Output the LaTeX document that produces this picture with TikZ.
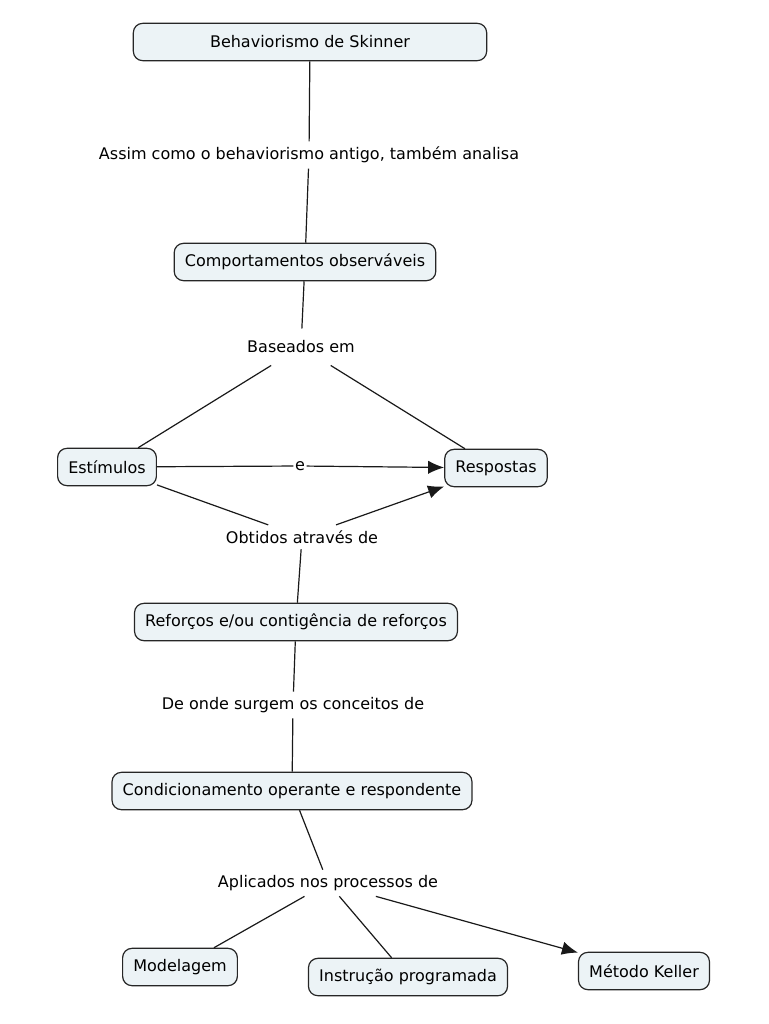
\documentclass[tikz,border=0pt]{standalone}
\usepackage{fontspec}
\setmainfont{DejaVu Sans}
\usetikzlibrary{arrows.meta}
\definecolor{conceptfill}{RGB}{236,243,246}
\tikzset{
  concept/.style={draw=black!85, fill=conceptfill, rounded corners=7pt, line width=0.9pt,
    inner xsep=8pt, minimum height=28pt, font=\fontsize{12}{14}\selectfont},
  link/.style={inner xsep=2pt, inner ysep=4pt, font=\fontsize{12}{14}\selectfont},
  conn/.style={line width=0.9pt, black!90},
  arr/.style={conn, -{Latex[length=12pt,width=10pt]}}
}
\begin{document}
\begin{tikzpicture}[x=0.75pt,y=-0.75pt]
\useasboundingbox (0,0) rectangle (768,1024);
% concepts
\node[concept, minimum width=265pt] (behav) at (310,42) {Behaviorismo de Skinner};
\node[concept] (comport) at (305,262) {Comportamentos observáveis};
\node[concept] (estim) at (107,467) {Estímulos};
\node[concept] (resp) at (496,468) {Respostas};
\node[concept] (reforcos) at (296,622) {Reforços e/ou contigência de reforços};
\node[concept] (condic) at (292,791) {Condicionamento operante e respondente};
\node[concept] (modelagem) at (180,967) {Modelagem};
\node[concept] (instrucao) at (408,977) {Instrução programada};
\node[concept] (keller) at (644,971) {Método Keller};
% linking phrases
\node[link] (assim) at (309,155) {Assim como o behaviorismo antigo, também analisa};
\node[link, inner ysep=9pt] (baseados) at (301,347) {Baseados em};
\node[link, inner sep=1pt] (e) at (300,466) {e};
\node[link] (obtidos) at (302,537) {Obtidos através de};
\node[link] (deonde) at (293,705) {De onde surgem os conceitos de};
\node[link] (aplicados) at (328,883) {Aplicados nos processos de};
% connections
\draw[conn] (behav) -- (assim);
\draw[conn] (assim) -- (comport);
\draw[conn] (comport) -- (baseados);
\draw[conn] (baseados) -- (estim);
\draw[conn] (baseados) -- (resp);
\draw[conn] (estim) -- (e);
\draw[arr] (e) -- (resp);
\draw[conn] (estim) -- (obtidos);
\draw[arr] (obtidos) -- (resp);
\draw[conn] (obtidos) -- (reforcos);
\draw[conn] (reforcos) -- (deonde);
\draw[conn] (deonde) -- (condic);
\draw[conn] (condic) -- (aplicados);
\draw[conn] (aplicados) -- (modelagem);
\draw[conn] (aplicados) -- (instrucao);
\draw[arr] (aplicados) -- (keller);
\end{tikzpicture}
\end{document}
